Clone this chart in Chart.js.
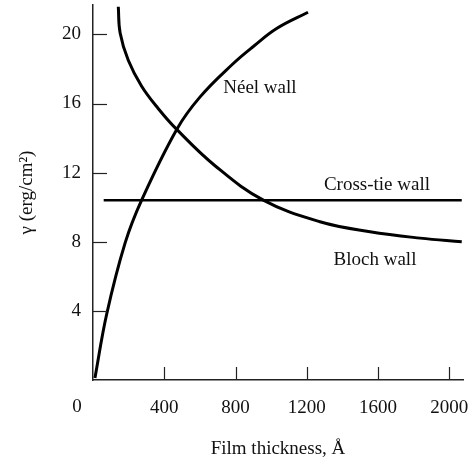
<!DOCTYPE html>
<html>
<head>
<meta charset="utf-8">
<script src="https://cdn.jsdelivr.net/npm/chart.js@4.4.1/dist/chart.umd.min.js"></script>
<style>
  html, body { margin: 0; padding: 0; background: #fff; }
  #wrap { width: 472px; height: 464px; }
</style>
</head>
<body>
<div id="wrap"><canvas id="wallChart"></canvas></div>
<script>
// film thickness (Angstrom) vs wall energy (erg/cm2)
const neelX = [11, 77, 180, 273, 470, 600, 786, 900, 1033, 1207];
const neelY = [0.12, 3.82, 7.92, 10.41, 14.5, 16.37, 18.3, 19.3, 20.35, 21.28];

const blochX = [142, 152, 198, 273, 367, 470, 685, 956, 1274, 1555, 1836, 2070];
const blochY = [21.6, 20.1, 18.5, 17.0, 15.7, 14.5, 12.4, 10.41, 9.16, 8.58, 8.21, 8.0];

const crossX = [60, 2070];
const crossY = [10.4, 10.4];

const xTicks = [0, 400, 800, 1200, 1600, 2000];
const yTicks = [0, 4, 8, 12, 16, 20];

const wallNames = ['Néel wall', 'Cross-tie wall', 'Bloch wall'];

const serif = '"Liberation Serif", "DejaVu Serif", serif';

function toPoints(xs, ys) {
  return xs.map((v, i) => ({ x: v, y: ys[i] }));
}

// inward tick marks, the origin "0" and the curve names
const decor = {
  id: 'decor',
  afterDraw(chart) {
    const ctx = chart.ctx;
    const x = chart.scales.x, y = chart.scales.y;
    ctx.save();
    ctx.strokeStyle = '#222';
    ctx.lineWidth = 1.2;
    xTicks.forEach(v => {
      if (v === 0) return;
      const px = Math.round(x.getPixelForValue(v)) + 0.5;
      ctx.beginPath();
      ctx.moveTo(px, y.bottom);
      ctx.lineTo(px, y.bottom - 13);
      ctx.stroke();
    });
    yTicks.forEach(v => {
      if (v === 0) return;
      const py = Math.round(y.getPixelForValue(v)) + 0.5;
      ctx.beginPath();
      ctx.moveTo(x.left, py);
      ctx.lineTo(x.left + 14, py);
      ctx.stroke();
    });

    ctx.fillStyle = '#111';
    ctx.font = '19px ' + serif;
    ctx.textAlign = 'center';
    ctx.textBaseline = 'middle';
    ctx.fillText('0', x.getPixelForValue(0) - 16, y.bottom + 27);

    const spots = [[937, 16.9], [1594, 11.28], [1583, 6.94]];
    wallNames.forEach((name, i) => {
      ctx.fillText(name, x.getPixelForValue(spots[i][0]), y.getPixelForValue(spots[i][1]));
    });
    ctx.restore();
  }
};

const lineStyle = {
  borderColor: '#000',
  borderWidth: 3,
  pointRadius: 0,
  fill: false,
  tension: 0.4
};

new Chart(document.getElementById('wallChart'), {
  type: 'line',
  data: {
    datasets: [
      Object.assign({ label: wallNames[0], data: toPoints(neelX, neelY) }, lineStyle),
      Object.assign({ label: wallNames[2], data: toPoints(blochX, blochY) }, lineStyle),
      Object.assign({ label: wallNames[1], data: toPoints(crossX, crossY) }, lineStyle, { borderWidth: 2.6 })
    ]
  },
  options: {
    responsive: true,
    maintainAspectRatio: false,
    animation: false,
    layout: { padding: { top: 5, right: 9, left: 0, bottom: 0 } },
    plugins: {
      legend: { display: false },
      tooltip: { enabled: false }
    },
    scales: {
      x: {
        type: 'linear',
        min: 0,
        max: 2077,
        afterBuildTicks: s => { s.ticks = xTicks.map(v => ({ value: v })); },
        afterFit: s => { s.height = 84; s.paddingLeft = 0; s.paddingRight = 0; },
        grid: { display: false, drawTicks: false },
        border: { display: true, color: '#222', width: 1.5 },
        ticks: {
          padding: 17,
          color: '#111',
          font: { family: serif, size: 19 },
          maxRotation: 0,
          callback: v => (v === 0 ? '' : v)
        },
        title: {
          display: true,
          text: 'Film thickness, Å',
          color: '#111',
          font: { family: serif, size: 19 },
          padding: { top: 0, bottom: 4 }
        }
      },
      y: {
        type: 'linear',
        min: 0,
        max: 21.7,
        afterBuildTicks: s => { s.ticks = yTicks.map(v => ({ value: v })); },
        afterFit: s => { s.width = 93; s.paddingTop = 0; s.paddingBottom = 0; },
        grid: { display: false, drawTicks: false },
        border: { display: true, color: '#222', width: 1.5 },
        ticks: {
          padding: 12,
          color: '#111',
          font: { family: serif, size: 19 },
          callback: v => (v === 0 ? '' : v)
        },
        title: {
          display: true,
          text: 'γ (erg/cm²)',
          color: '#111',
          font: { family: serif, size: 19 },
          padding: { top: 16, bottom: 0 }
        }
      }
    }
  },
  plugins: [decor]
});
</script>
</body>
</html>
